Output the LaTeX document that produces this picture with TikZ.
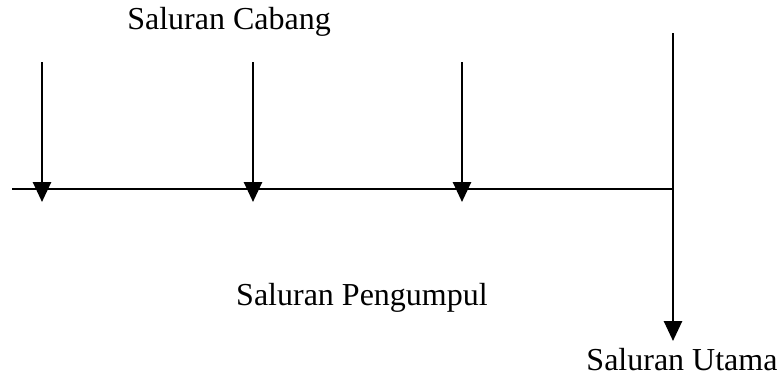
\documentclass[tikz,border=0pt]{standalone}
\usepackage{fontspec}
\setmainfont{Liberation Serif}
\usetikzlibrary{arrows.meta}
\begin{document}
\begin{tikzpicture}[x=0.75pt,y=-0.75pt,
  pipe/.style={line width=2pt},
  flow/.style={line width=2pt,-{Triangle[length=15pt,width=13.5pt]}},
  lbl/.style={font=\fontsize{24}{28}\selectfont,inner sep=0pt}]
\useasboundingbox (0,0) rectangle (779,380);
\coordinate (L) at (12,189);
\coordinate (J) at (673,189);
\coordinate (b1) at (42,62);
\coordinate (e1) at (42,202);
\coordinate (b2) at (253,62);
\coordinate (e2) at (253,202);
\coordinate (b3) at (462,62);
\coordinate (e3) at (462,202);
\coordinate (mt) at (673,33);
\coordinate (me) at (673,341);
\draw[pipe] (L) -- (J);
\draw[flow] (b1) -- (e1);
\draw[flow] (b2) -- (e2);
\draw[flow] (b3) -- (e3);
\draw[flow] (mt) -- (me);
\node[lbl] (cab) at (229,22) {Saluran Cabang};
\node[lbl] (pen) at (362,298) {Saluran Pengumpul};
\node[lbl] (uta) at (682,360) {Saluran Utama};
\end{tikzpicture}
\end{document}
